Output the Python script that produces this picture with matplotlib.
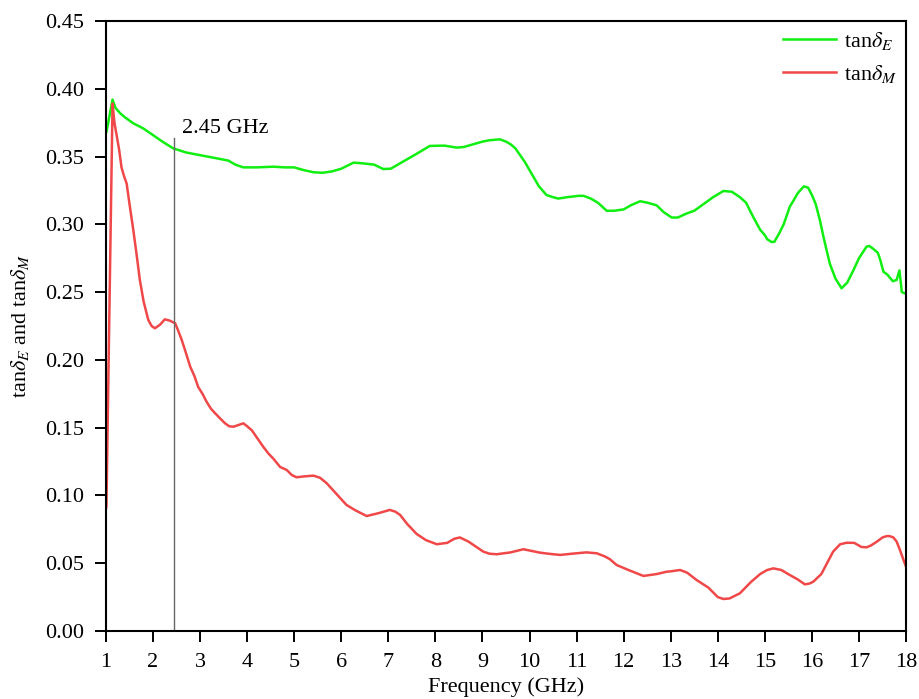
import matplotlib
matplotlib.use("Agg")
import matplotlib.pyplot as plt
import numpy as np

plt.rcParams['font.family'] = ['Liberation Serif', 'DejaVu Serif']
plt.rcParams['mathtext.fontset'] = 'stix'

freq_E = [1.0, 1.01, 1.14, 1.2, 1.30, 1.4, 1.58, 1.79, 1.95, 2.2, 2.43, 2.7, 3.0, 3.35, 3.6,
          3.75, 3.92, 4.2, 4.56, 4.8, 5.0, 5.2, 5.41, 5.6, 5.8, 6.0, 6.26, 6.45, 6.7, 6.89,
          7.05, 7.25, 7.4, 7.6, 7.88, 8.1, 8.2, 8.45, 8.6, 8.8, 9.0, 9.15, 9.37, 9.5, 9.6,
          9.7, 9.8, 9.9, 10.0, 10.1, 10.2, 10.36, 10.5, 10.61, 10.8, 11.04, 11.15, 11.3,
          11.45, 11.64, 11.8, 12.0, 12.15, 12.35, 12.5, 12.7, 12.85, 13.02, 13.15, 13.34,
          13.5, 13.7, 13.9, 14.12, 14.3, 14.47, 14.6, 14.75, 14.9, 15.0, 15.05, 15.14, 15.2,
          15.3, 15.4, 15.53, 15.6, 15.7, 15.75, 15.83, 15.92, 16.0, 16.08, 16.17, 16.25,
          16.38, 16.5, 16.63, 16.75, 16.88, 17.0, 17.16, 17.22, 17.3, 17.4, 17.45, 17.52,
          17.6, 17.72, 17.8, 17.86, 17.91, 17.98, 18.0]
tan_E = [0.368, 0.368, 0.392, 0.386, 0.382, 0.379, 0.3745, 0.3708, 0.367, 0.361, 0.356,
         0.353, 0.351, 0.3487, 0.347, 0.344, 0.342, 0.342, 0.3425, 0.342, 0.342, 0.340,
         0.3384, 0.338, 0.339, 0.341, 0.3455, 0.345, 0.344, 0.3408, 0.341, 0.345, 0.348,
         0.352, 0.3578, 0.358, 0.358, 0.3566, 0.357, 0.359, 0.361, 0.362, 0.3627, 0.361,
         0.359, 0.356, 0.351, 0.346, 0.340, 0.334, 0.328, 0.3216, 0.320, 0.319, 0.320,
         0.321, 0.321, 0.319, 0.316, 0.310, 0.310, 0.311, 0.314, 0.317, 0.316, 0.314,
         0.309, 0.305, 0.305, 0.308, 0.310, 0.315, 0.320, 0.3246, 0.324, 0.320, 0.316,
         0.3056, 0.296, 0.292, 0.289, 0.287, 0.287, 0.293, 0.300, 0.313, 0.317, 0.323,
         0.325, 0.328, 0.327, 0.3216, 0.315, 0.303, 0.290, 0.271, 0.260, 0.2528, 0.257,
         0.266, 0.275, 0.2835, 0.284, 0.282, 0.279, 0.274, 0.265, 0.263, 0.258, 0.259,
         0.266, 0.250, 0.249, 0.249]

freq_M = [1.0, 1.01, 1.14, 1.18, 1.23, 1.28, 1.33, 1.38, 1.44, 1.5, 1.58, 1.65, 1.72, 1.8,
          1.90, 1.97, 2.04, 2.15, 2.25, 2.35, 2.47, 2.53, 2.61, 2.7, 2.79, 2.88, 2.96, 3.05,
          3.14, 3.23, 3.32, 3.42, 3.53, 3.62, 3.71, 3.82, 3.92, 4.0, 4.1, 4.22, 4.34, 4.45,
          4.56, 4.7, 4.84, 4.95, 5.05, 5.2, 5.41, 5.55, 5.69, 5.9, 6.11, 6.3, 6.54, 6.8,
          7.03, 7.15, 7.25, 7.4, 7.6, 7.8, 8.03, 8.25, 8.4, 8.52, 8.7, 9.02, 9.15, 9.30,
          9.6, 9.87, 10.05, 10.22, 10.4, 10.65, 10.9, 11.21, 11.43, 11.6, 11.71, 11.85,
          12.1, 12.42, 12.7, 12.91, 13.0, 13.2, 13.35, 13.55, 13.8, 14.0, 14.12, 14.25,
          14.47, 14.7, 14.9, 15.05, 15.18, 15.35, 15.53, 15.7, 15.85, 15.95, 16.03, 16.2,
          16.45, 16.6, 16.74, 16.9, 17.05, 17.16, 17.25, 17.38, 17.5, 17.59, 17.65, 17.73,
          17.8, 17.87, 17.95, 18.0]
tan_M = [0.090, 0.0917, 0.389, 0.375, 0.365, 0.355, 0.342, 0.336, 0.330, 0.315, 0.296,
         0.278, 0.259, 0.243, 0.2294, 0.225, 0.2233, 0.226, 0.2299, 0.229, 0.227, 0.222,
         0.2147, 0.205, 0.195, 0.188, 0.180, 0.175, 0.169, 0.164, 0.1606, 0.157, 0.1532,
         0.151, 0.1507, 0.152, 0.1532, 0.151, 0.148, 0.142, 0.136, 0.131, 0.127, 0.121,
         0.1188, 0.115, 0.1134, 0.114, 0.1146, 0.113, 0.109, 0.101, 0.093, 0.089, 0.0848,
         0.087, 0.0893, 0.088, 0.0856, 0.079, 0.0716, 0.067, 0.064, 0.065, 0.068, 0.069,
         0.066, 0.0585, 0.057, 0.0566, 0.058, 0.0603, 0.059, 0.0578, 0.057, 0.0561, 0.057,
         0.058, 0.0573, 0.055, 0.0529, 0.0487, 0.045, 0.0406, 0.042, 0.0437, 0.044, 0.045,
         0.043, 0.0376, 0.032, 0.025, 0.0236, 0.024, 0.0278, 0.036, 0.042, 0.045, 0.0462,
         0.045, 0.0413, 0.038, 0.0344, 0.035, 0.0364, 0.042, 0.0585, 0.064, 0.0651, 0.065,
         0.062, 0.0617, 0.063, 0.0659, 0.069, 0.070, 0.070, 0.069, 0.066, 0.0598, 0.052,
         0.0474]

marker_freq = 2.45
marker_top = 0.364
marker_label = "2.45 GHz"

xticks = list(range(1, 19))
yticks = [0.00, 0.05, 0.10, 0.15, 0.20, 0.25, 0.30, 0.35, 0.40, 0.45]

fig = plt.figure(figsize=(9.19, 6.99), dpi=100)
ax = fig.add_axes([0.1153, 0.0973, 0.8706, 0.8727])

ax.plot(freq_E, tan_E, color='#11ee11', lw=1.8, label=r'tan$\delta_E$')
ax.plot(freq_M, tan_M, color='#f04848', lw=1.8, label=r'tan$\delta_M$')
ax.plot([marker_freq, marker_freq], [0, marker_top], color='#666666', lw=1.0)
ax.text(2.615, 0.367, marker_label, fontsize=16, ha='left', va='baseline')

ax.set_xlim(1, 18)
ax.set_ylim(0, 0.45)
ax.set_xticks(xticks)
ax.set_yticks(yticks)
ax.set_yticklabels([f"{v:.2f}" for v in yticks])
ax.tick_params(direction='out', length=8, width=1.4, labelsize=16, pad=8)
for s in ax.spines.values():
    s.set_linewidth(1.5)

ax.set_xlabel('Frequency (GHz)', fontsize=16, labelpad=4)
ax.set_ylabel(r'tan$\delta_E$ and tan$\delta_M$', fontsize=16, labelpad=10)

leg = ax.legend(loc='upper right', frameon=False, fontsize=16, handlelength=2.4,
                handletextpad=0.35, borderaxespad=0.0, labelspacing=0.5)

fig.savefig('out.png', dpi=100)
